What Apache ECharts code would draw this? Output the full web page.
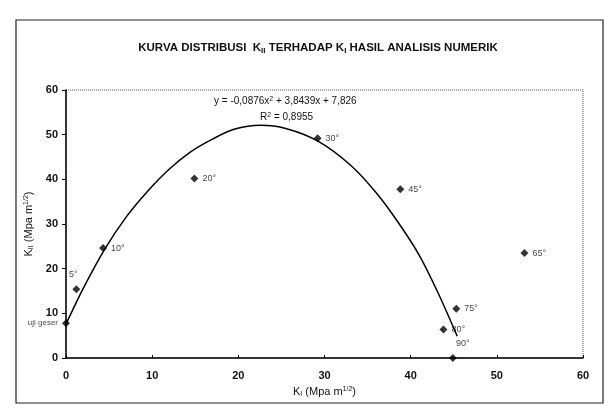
<!DOCTYPE html>
<html>
<head>
<meta charset="utf-8">
<script src="https://cdn.jsdelivr.net/npm/echarts@6/dist/echarts.min.js"></script>
<style>
  html, body { margin: 0; padding: 0; background: #fff; }
  #main { width: 614px; height: 418px; }
</style>
</head>
<body>
<div id="main"></div>
<script>
// titik hasil analisis numerik (K_I, K_II)
var sudut = ['uji geser', '5°', '10°', '20°', '30°', '45°', '65°', '75°', '80°', '90°'];
var kI = [0, 1.2, 4.3, 14.9, 29.2, 38.8, 53.2, 45.3, 43.8, 44.9];
var kII = [7.8, 15.4, 24.6, 40.2, 49.2, 37.8, 23.5, 11.0, 6.4, 0];
var posLabel = ['left', 'top', 'right', 'right', 'right', 'right', 'right', 'right', 'right', 'top'];

// garis trend polinomial
var trendX = [0, 2, 4.5, 7, 9.5, 12, 14.5, 17, 19.5, 22.6, 25.5, 29.2, 33, 36, 38.5, 41, 43.2, 45.4];
var trendY = [7.6, 15.6, 24.4, 31.6, 37.4, 42.3, 46.2, 49.0, 51.2, 52.1, 51.4, 48.6, 43.2, 37.0, 30.5, 23.0, 14.5, 4.9];

var xTicks = [0, 10, 20, 30, 40, 50, 60];
var yTicks = [0, 10, 20, 30, 40, 50, 60];

var font = 'Liberation Sans, Arial, sans-serif';
var fontNarrow = 'Liberation Sans Narrow, Arial Narrow, Liberation Sans, sans-serif';

var titik = [];
for (var i = 0; i < kI.length; i++) {
    var lbl = { show: true, position: posLabel[i], distance: 4 };
    if (i === 0) lbl.fontSize = 8;
    if (i === 1) lbl.offset = [-3, -2];
    if (i === 9) lbl.offset = [10, -2];
    titik.push({ value: [kI[i], kII[i]], name: sudut[i], label: lbl });
}
var trend = [];
for (var j = 0; j < trendX.length; j++) {
    trend.push([trendX[j], trendY[j]]);
}

var myChart = echarts.init(document.getElementById('main'));

var option = {
    backgroundColor: '#fff',
    animation: false,
    title: {
        text: 'KURVA DISTRIBUSI  K{sub|II} TERHADAP K{sub|I} HASIL ANALISIS NUMERIK',
        left: 313,
        textAlign: 'center',
        top: 36,
        textStyle: {
            fontFamily: fontNarrow,
            fontSize: 11.5,
            fontWeight: 'bold',
            color: '#111',
            rich: {
                sub: { fontSize: 8, fontFamily: fontNarrow, fontWeight: 'bold', verticalAlign: 'bottom', padding: [6, 0, 0, 0] }
            }
        }
    },
    grid: {
        left: 66,
        right: 31,
        top: 90,
        bottom: 60,
        show: true,
        borderColor: '#555',
        borderWidth: 1,
        borderType: 'dotted'
    },
    xAxis: {
        type: 'value',
        min: 0,
        max: 60,
        interval: 10,
        name: 'K{sub|I} (Mpa m{sup|1/2})',
        nameLocation: 'middle',
        nameGap: 28,
        nameTextStyle: {
            fontFamily: font, fontSize: 11, color: '#111',
            rich: {
                sub: { fontSize: 7, verticalAlign: 'bottom', padding: [5, 0, 0, 0] },
                sup: { fontSize: 7, verticalAlign: 'top', padding: [0, 0, 5, 0] }
            }
        },
        axisLine: { show: true, onZero: false, lineStyle: { color: '#000', width: 1.5 } },
        axisTick: { show: true, inside: true, length: 3, lineStyle: { color: '#000' } },
        axisLabel: {
            fontFamily: font, fontSize: 11, fontWeight: 'bold', color: '#111', margin: 12,
            formatter: function (v) { return xTicks.indexOf(v) >= 0 ? String(v) : ''; }
        },
        splitLine: { show: false }
    },
    yAxis: {
        type: 'value',
        min: 0,
        max: 60,
        interval: 10,
        name: 'K{sub|II} (Mpa m{sup|1/2})',
        nameLocation: 'middle',
        nameGap: 29,
        nameTextStyle: {
            fontFamily: font, fontSize: 11, color: '#111',
            rich: {
                sub: { fontSize: 7, verticalAlign: 'bottom', padding: [5, 0, 0, 0] },
                sup: { fontSize: 7, verticalAlign: 'top', padding: [0, 0, 5, 0] }
            }
        },
        axisLine: { show: true, onZero: false, lineStyle: { color: '#000', width: 1.5 } },
        axisTick: { show: true, length: 4, lineStyle: { color: '#000' } },
        axisLabel: {
            fontFamily: font, fontSize: 11, fontWeight: 'bold', color: '#111', margin: 8,
            formatter: function (v) { return yTicks.indexOf(v) >= 0 ? String(v) : ''; }
        },
        splitLine: { show: false }
    },
    graphic: [
        {
            type: 'rect',
            shape: { x: 16, y: 20, width: 587, height: 383 },
            style: { fill: 'none', stroke: '#222', lineWidth: 1.2 },
            silent: true
        },
        {
            type: 'text',
            left: 214,
            top: 96,
            style: {
                text: 'y = -0,0876x{sup|2} + 3,8439x + 7,826',
                fontFamily: fontNarrow,
                fontSize: 10,
                fill: '#111',
                rich: { sup: { fontSize: 7, verticalAlign: 'top', padding: [0, 0, 4, 0], fontFamily: fontNarrow } }
            }
        },
        {
            type: 'text',
            left: 260,
            top: 112,
            style: {
                text: 'R{sup|2} = 0,8955',
                fontFamily: fontNarrow,
                fontSize: 10,
                fill: '#111',
                rich: { sup: { fontSize: 7, verticalAlign: 'top', padding: [0, 0, 4, 0], fontFamily: fontNarrow } }
            }
        }
    ],
    series: [
        {
            type: 'line',
            data: trend,
            smooth: 0.3,
            showSymbol: false,
            symbol: 'none',
            lineStyle: { color: '#000', width: 1.5 },
            z: 2
        },
        {
            type: 'scatter',
            data: titik,
            symbol: 'diamond',
            symbolSize: 8,
            clip: false,
            itemStyle: { color: '#000' },
            label: {
                show: true,
                formatter: '{b}',
                fontFamily: font,
                fontSize: 9,
                color: '#111'
            },
            z: 3
        }
    ]
};

myChart.setOption(option);
</script>
</body>
</html>
